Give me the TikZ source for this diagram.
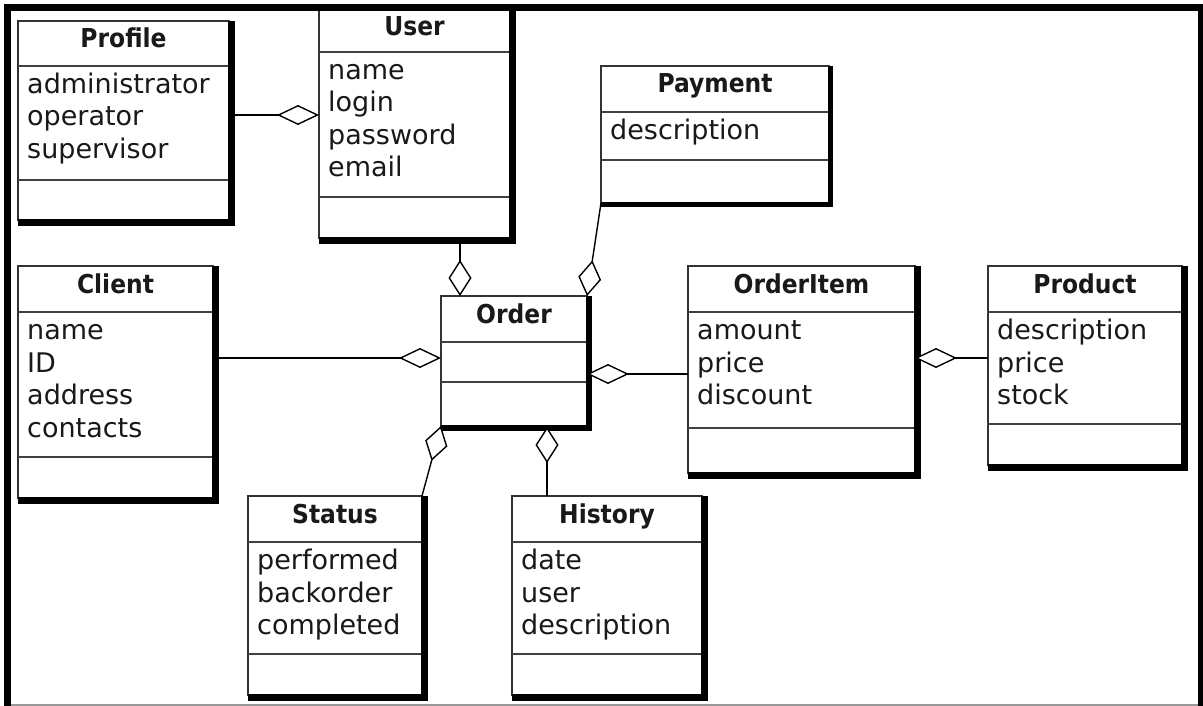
\documentclass[tikz,border=0pt]{standalone}
\usepackage{fontspec}
\setmainfont{DejaVu Sans}
\newfontfamily\titlefont[FakeStretch=0.9]{DejaVu Sans}
\usetikzlibrary{arrows.meta}

\tikzset{
  classbox/.style={draw=black!80, line width=1.2pt, fill=white, inner sep=0pt, outer sep=0pt},
  sepline/.style={draw=black!75, line width=1.2pt},
  shadowband/.style={fill=black},
  titletext/.style={font=\titlefont\bfseries\fontsize{26}{30}\selectfont, text=black!90, inner sep=0pt},
  attrtext/.style={font=\fontsize{27}{32}\selectfont, text=black!90, inner sep=0pt},
  agg/.style={line width=1.8pt, -{Diamond[fill=white, length=42pt, width=20pt, line width=1.4pt]}},
  aggv/.style={line width=1.4pt, -{Diamond[fill=white, length=36pt, width=23pt, line width=1.4pt]}},
  framebar/.style={fill=black},
}

% #1 name, #2 x1, #3 y1, #4 x2, #5 y2, #6 header rule, #7 attribute rule, #8 shadow band, #9 title
\newcommand\umlclass[9]{%
  \node[classbox, anchor=north west, minimum width={(#4-#2)*1pt}, minimum height={(#5-#3)*1pt}] (#1) at (#2,#3) {};
  \draw[sepline] (#2,#6) -- (#4,#6);
  \draw[sepline] (#2,#7) -- (#4,#7);
  \fill[shadowband] ({#4-0.6},#3) rectangle ({#4+#8},{#5+#8});
  \fill[shadowband] (#2,{#5-0.6}) rectangle ({#4+#8},{#5+#8});
  \node[titletext, anchor=base] (#1-title) at ({(#2+#4)/2},{#3+27}) {#9};
}

% #1 class name, #2 left edge, #3 header rule, #4 attribute list
\newcommand\umlattrs[4]{%
  \foreach \t [count=\i] in {#4} {
    \node[attrtext, anchor=base west] (#1-a\i) at ({#2+9},{#3+27.5+32.5*(\i-1)}) {\t};
  }
}

\begin{document}
\begin{tikzpicture}[x=1pt, y=-1pt]
  \useasboundingbox (0,0) rectangle (1203,706);
  \fill[white] (0,0) rectangle (1203,706);

  % classes
  \umlclass{profile}{18}{21}{229}{220}{66}{180}{6}{Profile}
  \umlattrs{profile}{18}{66}{administrator,operator,supervisor}

  \umlclass{user}{319}{9}{510}{238}{52}{197}{6}{User}
  \umlattrs{user}{319}{52}{name,login,password,email}

  \umlclass{payment}{601}{66}{829}{203}{112}{160}{4}{Payment}
  \umlattrs{payment}{601}{112}{description}

  \umlclass{client}{18}{266}{213}{498}{312}{457}{6}{Client}
  \umlattrs{client}{18}{312}{name,ID,address,contacts}

  \umlclass{order}{441}{296}{587}{426}{342}{382}{5}{Order}

  \umlclass{orderitem}{688}{266}{915}{473}{312}{428}{6}{OrderItem}
  \umlattrs{orderitem}{688}{312}{amount,price,discount}

  \umlclass{product}{988}{266}{1182}{465}{312}{424}{6}{Product}
  \umlattrs{product}{988}{312}{description,price,stock}

  \umlclass{status}{248}{496}{422}{695}{542}{654}{6}{Status}
  \umlattrs{status}{248}{542}{performed,backorder,completed}

  \umlclass{history}{512}{496}{702}{695}{542}{654}{6}{History}
  \umlattrs{history}{512}{542}{date,user,description}

  % aggregations
  \draw[agg] (profile.east |- 0,115) -- (user.west |- 0,115);
  \draw[agg] (client.east |- 0,358) -- (order.west |- 0,358);
  \draw[agg] (orderitem.west |- 0,374) -- (order.east |- 0,374);
  \draw[agg] (product.west |- 0,358) -- (orderitem.east |- 0,358);
  \draw[aggv] (user.south -| 460,0) -- (order.north -| 460,0);
  \draw[aggv] (payment.south west) -- (order.north east);
  \draw[aggv] (status.north east) -- (order.south west);
  \draw[aggv] (history.north -| 547,0) -- ([yshift=-1pt]order.south -| 547,0);

  % frame
  \fill[framebar] (4,4) rectangle (1203,11);
  \fill[framebar] (4,4) rectangle (11,706);
  \fill[framebar] (1198,4) rectangle (1203,706);
  \draw[black!40, line width=1.2pt] (11,705) -- (1198,705);
\end{tikzpicture}
\end{document}
